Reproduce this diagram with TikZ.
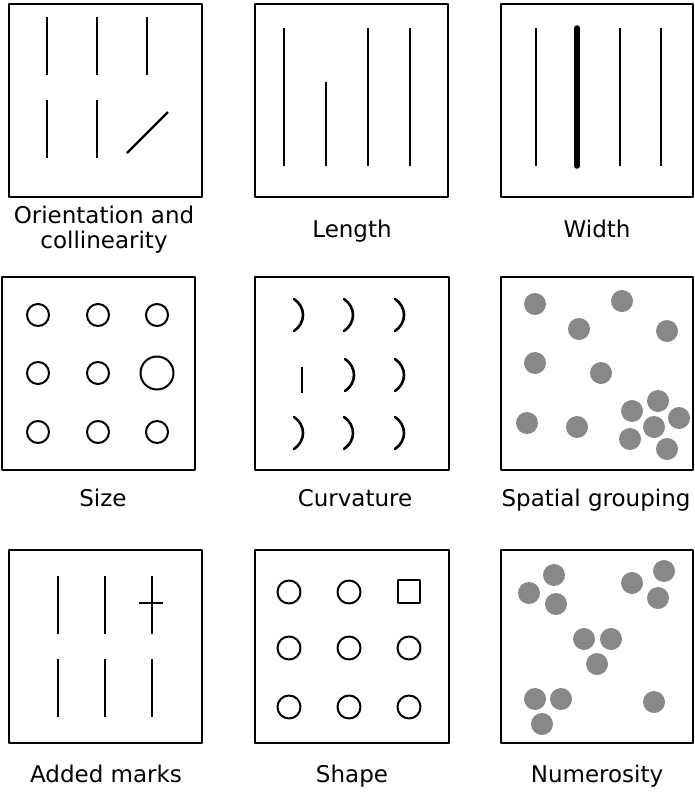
\documentclass[tikz,border=0pt]{standalone}
\usepackage{fontspec}
\setmainfont{DejaVu Sans}
\definecolor{dotgray}{HTML}{888888}
\begin{document}
\begin{tikzpicture}[
  x=1pt, y=-1pt,
  line join=round,
  panel/.style={draw, line width=2.2pt},
  stroke/.style={line width=2.2pt},
  ring/.style={line width=2pt},
  bow/.style={line width=2.6pt, line cap=round},
  disc/.style={fill=dotgray},
  caption/.style={anchor=base, font=\fontsize{23}{28}\selectfont}
]
  \useasboundingbox (0,0) rectangle (694,793);

  % Orientation and collinearity
  \draw[panel] (9,4) rectangle (202,197);
  \foreach \x in {47,97,147} \draw[stroke] (\x,17) -- (\x,75);
  \foreach \x in {47,97} \draw[stroke] (\x,100) -- (\x,158);
  \draw[stroke] (127,153) -- (168,112);
  \node[caption] (orient) at (104,223) {Orientation and};
  \node[caption] (collin) at (104,248) {collinearity};

  % Length
  \draw[panel] (255,4) rectangle (448,197);
  \foreach \x in {284,368,410} \draw[stroke] (\x,28) -- (\x,166);
  \draw[stroke] (326,82) -- (326,166);
  \node[caption] (length) at (352,237) {Length};

  % Width
  \draw[panel] (501,4) rectangle (693,197);
  \foreach \x in {536,620,661} \draw[stroke] (\x,28) -- (\x,166);
  \draw[line width=5.5pt, line cap=round] (577,28) -- (577,166);
  \node[caption] (width) at (597,237) {Width};

  % Size
  \draw[panel] (2,277) rectangle (195,470);
  \foreach \x in {38,98,157}
    \foreach \y in {315,432}
      \draw[ring] (\x,\y) circle (11pt);
  \foreach \x in {38,98} \draw[ring] (\x,373) circle (11pt);
  \draw[ring] (157,373) circle (16.5pt);
  \node[caption] (size) at (103,506) {Size};

  % Curvature
  \draw[panel] (255,277) rectangle (449,470);
  \foreach \x/\y in {294/315,344/315,395/315,345/375,395/375,294/433,344/433,395/433}
    \draw[bow] (\x,\y-16) .. controls (\x+12,\y-8) and (\x+12,\y+8) .. (\x,\y+16);
  \draw[stroke] (302,367) -- (302,393);
  \node[caption] (curv) at (355,506) {Curvature};

  % Spatial grouping
  \draw[panel] (501,277) rectangle (693,470);
  \foreach \x/\y in {535/304,622/301,579/329,667/331,535/363,601/373,527/423,
      577/427,632/411,658/401,679/418,654/427,630/439,667/449}
    \fill[disc] (\x,\y) circle (11pt);
  \node[caption] (group) at (596,506) {Spatial grouping};

  % Added marks
  \draw[panel] (9,550) rectangle (202,743);
  \foreach \x in {58,105,152} {
    \draw[stroke] (\x,576) -- (\x,634);
    \draw[stroke] (\x,659) -- (\x,717);
  }
  \draw[stroke] (139,603) -- (163,603);
  \node[caption] (added) at (106,782) {Added marks};

  % Shape
  \draw[panel] (255,550) rectangle (449,743);
  \foreach \x/\y in {289/592,349/592,289/648,349/648,409/648,289/707,349/707,409/707}
    \draw[ring] (\x,\y) circle (11.5pt);
  \draw[ring] (398,580) rectangle (420,603);
  \node[caption] (shape) at (352,782) {Shape};

  % Numerosity
  \draw[panel] (501,550) rectangle (693,743);
  \foreach \x/\y in {554/575,529/593,556/604,632/583,664/571,658/598,
      584/639,611/639,597/664,535/699,561/699,542/724,654/702}
    \fill[disc] (\x,\y) circle (11pt);
  \node[caption] (numer) at (597,782) {Numerosity};
\end{tikzpicture}
\end{document}
